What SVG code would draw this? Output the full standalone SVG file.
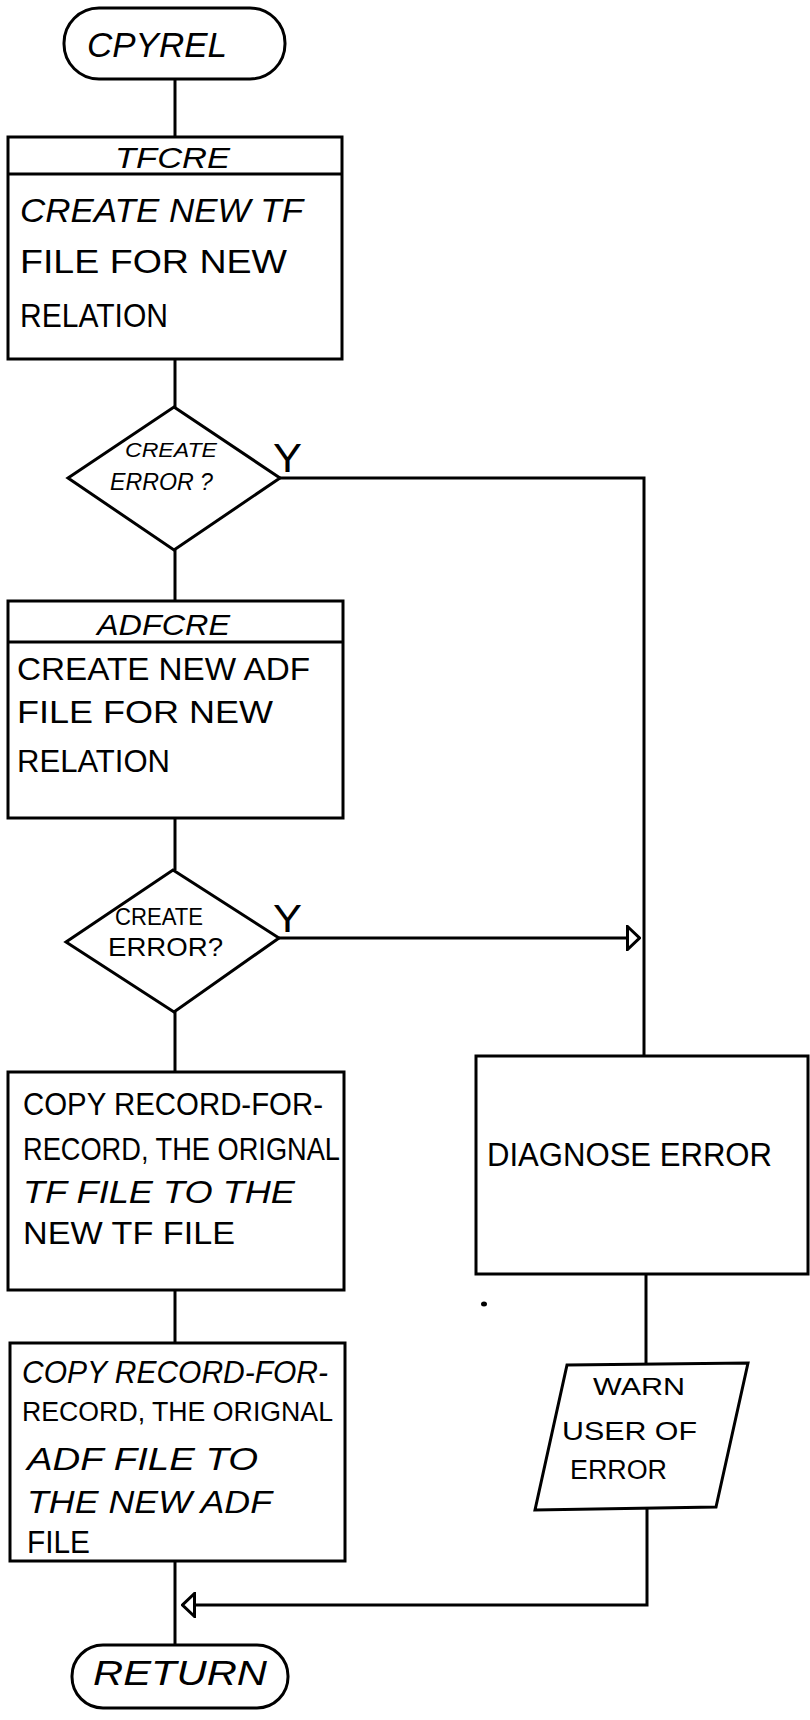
<svg xmlns="http://www.w3.org/2000/svg" width="810" height="1720" viewBox="0 0 810 1720">
<style>
.ln{stroke:#000;stroke-width:3;fill:none;stroke-linejoin:miter}
.sh{fill:#fff;stroke:#000;stroke-width:3}
text{font-family:"Liberation Sans",Arial,sans-serif;fill:#000}
.it{font-style:italic}
.b{font-size:34px}
.m{font-size:32px}
</style>
<defs>
<marker id="openArrow" viewBox="0 0 15 26" refX="14" refY="13" markerWidth="15" markerHeight="26" markerUnits="userSpaceOnUse" orient="auto">
<path d="M1.5,1.5 L13.5,13 L1.5,24.5 Z" fill="#fff" stroke="#000" stroke-width="3"/>
</marker>
</defs>
<rect x="0" y="0" width="810" height="1720" fill="#fff"/>

<g id="connectors">
<path class="ln" d="M175,79 V137"/>
<path class="ln" d="M175,359 V407"/>
<path class="ln" d="M175,550 V601"/>
<path class="ln" d="M175,818 V870"/>
<path class="ln" d="M175,1012 V1072"/>
<path class="ln" d="M175,1290 V1343"/>
<path class="ln" d="M175,1561 V1645"/>
<path class="ln" d="M280,478 H644 V1056"/>
<path class="ln" d="M279,938 H640" marker-end="url(#openArrow)"/>
<path class="ln" d="M646,1274 V1363"/>
<path class="ln" d="M647,1509 V1605 H182" marker-end="url(#openArrow)"/>
<text x="273" y="472" font-size="40" textLength="29" lengthAdjust="spacingAndGlyphs">Y</text>
<text x="273" y="932" font-size="38" textLength="29" lengthAdjust="spacingAndGlyphs">Y</text>
</g>

<g id="start">
<rect class="sh" x="64" y="8" width="221" height="71" rx="35" ry="35"/>
<text class="it" x="87" y="57" font-size="35" textLength="140" lengthAdjust="spacingAndGlyphs">CPYREL</text>
</g>

<g id="tfcre">
<rect class="sh" x="8" y="137" width="334" height="222"/>
<line class="ln" x1="8" y1="174" x2="342" y2="174"/>
<text class="it" x="115" y="168" font-size="30" textLength="115" lengthAdjust="spacingAndGlyphs">TFCRE</text>
<text class="b it" x="20" y="222" textLength="283" lengthAdjust="spacingAndGlyphs">CREATE NEW TF</text>
<text class="b" x="20" y="273" textLength="267" lengthAdjust="spacingAndGlyphs">FILE FOR NEW</text>
<text class="b" x="20" y="327" textLength="148" lengthAdjust="spacingAndGlyphs">RELATION</text>
</g>

<g id="decision1">
<polygon class="sh" points="174,407 280,478 174,550 68,478"/>
<text class="it" x="125" y="457" font-size="20" textLength="92" lengthAdjust="spacingAndGlyphs">CREATE</text>
<text class="it" x="110" y="490" font-size="24" textLength="103" lengthAdjust="spacingAndGlyphs">ERROR ?</text>
</g>

<g id="adfcre">
<rect class="sh" x="8" y="601" width="335" height="217"/>
<line class="ln" x1="8" y1="642" x2="343" y2="642"/>
<text class="it" x="97" y="635" font-size="30" textLength="133" lengthAdjust="spacingAndGlyphs">ADFCRE</text>
<text class="m" x="17" y="680" textLength="293" lengthAdjust="spacingAndGlyphs">CREATE NEW ADF</text>
<text class="m" x="17" y="723" textLength="256" lengthAdjust="spacingAndGlyphs">FILE FOR NEW</text>
<text class="m" x="17" y="772" textLength="153" lengthAdjust="spacingAndGlyphs">RELATION</text>
</g>

<g id="decision2">
<polygon class="sh" points="173,870 279,938 174,1012 66,942"/>
<text x="115" y="925" font-size="23" textLength="88" lengthAdjust="spacingAndGlyphs">CREATE</text>
<text x="108" y="956" font-size="26" textLength="115" lengthAdjust="spacingAndGlyphs">ERROR?</text>
</g>

<g id="copytf">
<rect class="sh" x="8" y="1072" width="336" height="218"/>
<text class="m" x="23" y="1115" textLength="300" lengthAdjust="spacingAndGlyphs">COPY RECORD-FOR-</text>
<text class="m" x="23" y="1160" textLength="317" lengthAdjust="spacingAndGlyphs">RECORD, THE ORIGNAL</text>
<text class="m it" x="23" y="1203" textLength="272" lengthAdjust="spacingAndGlyphs">TF FILE TO THE</text>
<text class="m" x="23" y="1244" textLength="212" lengthAdjust="spacingAndGlyphs">NEW TF FILE</text>
</g>

<g id="diagnose">
<rect class="sh" x="476" y="1056" width="332" height="218"/>
<text x="487" y="1166" font-size="33" textLength="285" lengthAdjust="spacingAndGlyphs">DIAGNOSE ERROR</text>
</g>

<g id="copyadf">
<rect class="sh" x="10" y="1343" width="335" height="218"/>
<text class="m it" x="22" y="1383" textLength="306" lengthAdjust="spacingAndGlyphs">COPY RECORD-FOR-</text>
<text x="22" y="1421" font-size="27" textLength="311" lengthAdjust="spacingAndGlyphs">RECORD, THE ORIGNAL</text>
<text class="m it" x="27" y="1470" textLength="231" lengthAdjust="spacingAndGlyphs">ADF FILE TO</text>
<text class="m it" x="27" y="1513" textLength="245" lengthAdjust="spacingAndGlyphs">THE NEW ADF</text>
<text class="m" x="27" y="1553" textLength="63" lengthAdjust="spacingAndGlyphs">FILE</text>
</g>

<g id="warn">
<polygon class="sh" points="567,1365 748,1363 716,1507 535,1510"/>
<text x="593" y="1395" font-size="23" textLength="92" lengthAdjust="spacingAndGlyphs">WARN</text>
<text x="562" y="1440" font-size="26" textLength="135" lengthAdjust="spacingAndGlyphs">USER OF</text>
<text x="570" y="1479" font-size="27" textLength="97" lengthAdjust="spacingAndGlyphs">ERROR</text>
</g>

<g id="end">
<rect class="sh" x="72" y="1645" width="216" height="63" rx="31" ry="31"/>
<text class="it" x="93" y="1685" font-size="35" textLength="174" lengthAdjust="spacingAndGlyphs">RETURN</text>
</g>

<ellipse cx="484" cy="1304" rx="3" ry="2.5" fill="#000"/>
</svg>
